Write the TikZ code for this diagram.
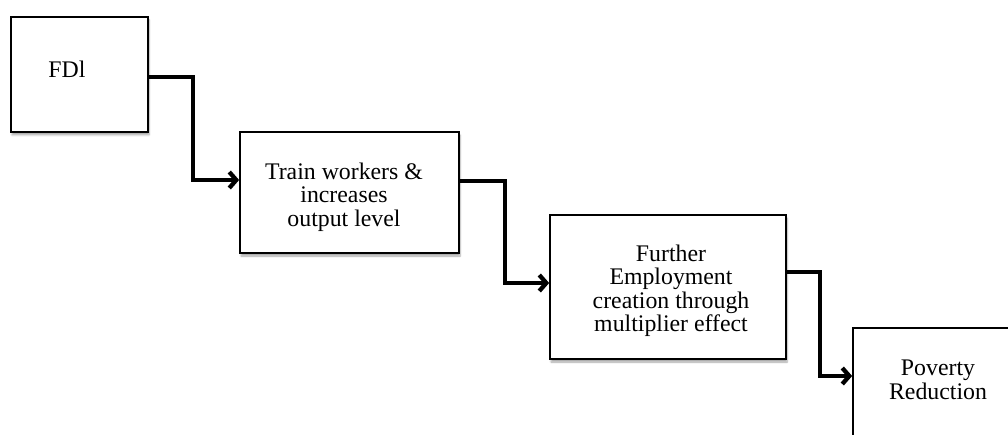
\documentclass[tikz,border=0pt]{standalone}
\usepackage{fontspec}
\setmainfont{Liberation Serif}
\usetikzlibrary{arrows.meta,shadows.blur}
\tikzset{
  box/.style={draw=black, line width=1.7pt, fill=white, rectangle,
    blur shadow={shadow xshift=1pt, shadow yshift=-3pt, shadow blur steps=6, shadow opacity=35}},
  txt/.style={align=center, font=\fontsize{23.8pt}{23.5pt}\selectfont, inner sep=0pt},
  conn/.style={line width=4.3pt, line join=miter, -{Straight Barb[length=7pt,width=16pt]}}
}
\begin{document}
\begin{tikzpicture}[x=1pt,y=-1pt]
\useasboundingbox (0,0) rectangle (1008,435);
\clip (0,0) rectangle (1008,435);
\node[box, minimum width=137pt, minimum height=115pt] (b1) at (79.5,74.5) {};
\node[txt] (b1t) at (67,69) {FDl};
\node[box, minimum width=219pt, minimum height=121pt] (b2) at (349.5,192.5) {};
\node[txt] (b2t) at (344,197) {Train workers \&\\increases\\output level};
\node[box, minimum width=236pt, minimum height=144pt] (b3) at (668,287) {};
\node[txt] (b3t) at (671,291) {Further\\Employment\\creation through\\multiplier effect};
\node[box, minimum width=170pt, minimum height=140pt] (b4) at (938,398) {};
\node[txt] (b4t) at (938,380) {Poverty\\Reduction};
\draw[conn] ([yshift=-2.5pt]b1.east) -| (193,180) -- ([yshift=12.5pt]b2.west);
\draw[conn] ([yshift=11.5pt]b2.east) -| (505,283) -- ([yshift=4pt]b3.west);
\draw[conn] ([yshift=15pt]b3.east) -| (820,376) -- ([yshift=22pt]b4.west);
\end{tikzpicture}
\end{document}
